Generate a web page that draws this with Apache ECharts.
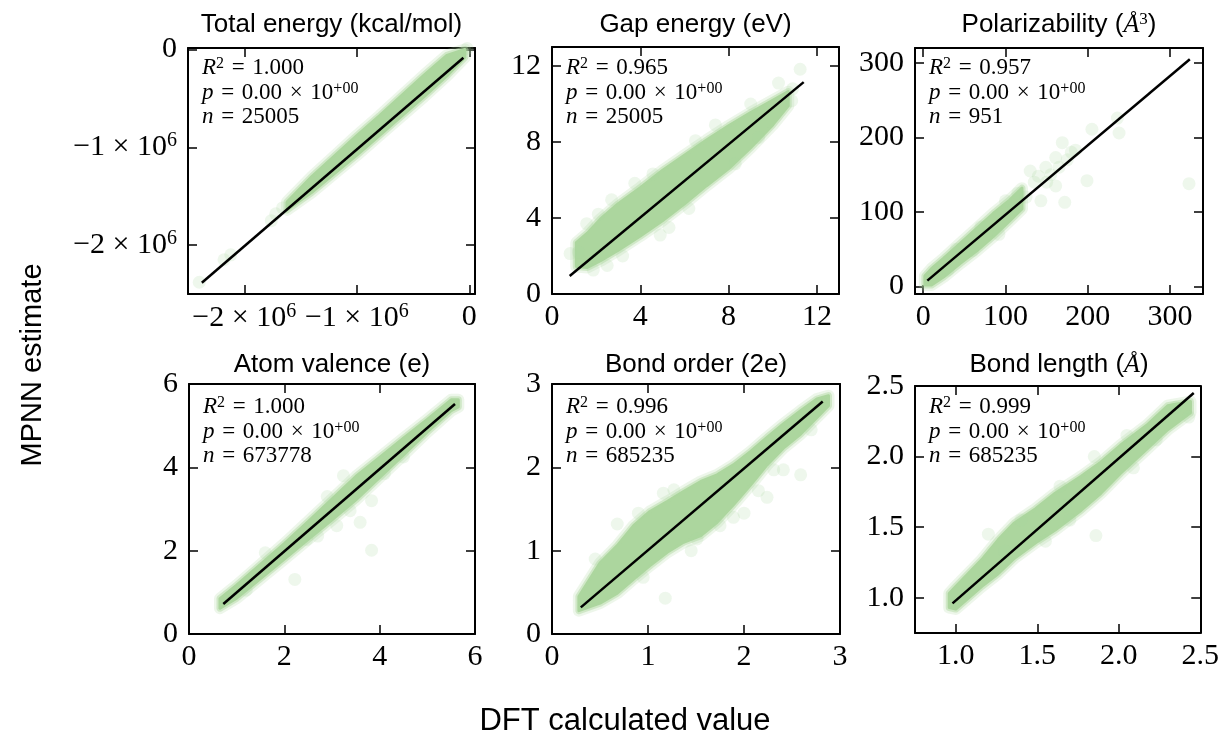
<!DOCTYPE html>
<html>
<head>
<meta charset="utf-8">
<script src="https://cdn.jsdelivr.net/npm/echarts@6/dist/echarts.min.js"></script>
<style>html,body{margin:0;background:#fff}#main{width:1222px;height:740px}</style>
</head>
<body>
<div id="main"></div>
<script>
var dom = document.getElementById('main');
var myChart = echarts.init(dom, null, {renderer: 'canvas'});

// panel titles and stats
var titles = ['Total energy (kcal/mol)', 'Gap energy (eV)', 'Polarizability ({m|Å}{t|3})',
              'Atom valence (e)', 'Bond order (2e)', 'Bond length ({m|Å})'];
var r2Values = ['1.000', '0.965', '0.957', '1.000', '0.996', '0.999'];
var nValues = ['25005', '25005', '951', '673778', '685235', '685235'];

// dense cloud outline per panel: [x, lowest y, highest y]
var totalBand = [[-1.62e6, -1.64e6, -1.56e6], [-1.4e6, -1.46e6, -1.30e6], [-1.2e6, -1.27e6, -1.09e6],
  [-1.0e6, -1.08e6, -0.88e6], [-0.8e6, -0.88e6, -0.68e6], [-0.6e6, -0.68e6, -0.47e6],
  [-0.4e6, -0.48e6, -0.26e6], [-0.2e6, -0.27e6, -0.06e6], [-0.04e6, -0.08e6, 0]];
var gapBand = [[1.1, 1.45, 2.7], [1.6, 1.4, 3.2], [2.2, 1.75, 3.95], [3.0, 2.3, 4.75], [4.0, 3.05, 5.6],
  [5.0, 3.85, 6.5], [6.0, 4.75, 7.3], [7.0, 5.7, 8.1], [8.0, 6.6, 8.85], [9.0, 7.7, 9.55],
  [10.0, 8.9, 10.2], [10.7, 9.9, 10.65]];
var polarBand = [[2, 2, 14], [10, 2, 24], [25, 13, 38], [45, 31, 58], [65, 48, 78], [85, 67, 98],
  [105, 88, 116], [120, 104, 132]];
var valenceBand = [[0.65, 0.62, 0.85], [1.0, 0.86, 1.17], [1.5, 1.33, 1.67], [2.0, 1.80, 2.17],
  [2.5, 2.27, 2.70], [3.0, 2.74, 3.24], [3.5, 3.22, 3.78], [4.0, 3.76, 4.24], [4.5, 4.30, 4.70],
  [5.0, 4.85, 5.15], [5.5, 5.36, 5.62], [5.65, 5.45, 5.62]];
var orderBand = [[0.28, 0.28, 0.45], [0.5, 0.37, 0.85], [0.68, 0.49, 1.06], [0.85, 0.66, 1.30],
  [1.02, 0.82, 1.47], [1.2, 0.98, 1.59], [1.37, 1.10, 1.71], [1.55, 1.18, 1.83], [1.72, 1.34, 1.91],
  [1.89, 1.55, 2.03], [2.07, 1.79, 2.19], [2.24, 2.03, 2.36], [2.41, 2.23, 2.52], [2.59, 2.40, 2.68],
  [2.76, 2.60, 2.82], [2.88, 2.74, 2.86]];
var lengthBand = [[0.96, 0.93, 1.03], [1.0, 0.92, 1.08], [1.16, 1.08, 1.27], [1.26, 1.17, 1.41],
  [1.36, 1.28, 1.53], [1.49, 1.39, 1.63], [1.61, 1.48, 1.74], [1.77, 1.62, 1.86], [1.89, 1.74, 1.96],
  [2.01, 1.88, 2.08], [2.17, 2.05, 2.22], [2.30, 2.19, 2.36], [2.44, 2.31, 2.39]];

// scattered single points outside the dense cloud
var totalPoints = [[-1.72e6, -1.68e6], [-1.66e6, -1.62e6], [-1.76e6, -1.75e6], [-2.12e6, -2.10e6],
  [-2.18e6, -2.15e6], [-2.40e6, -2.38e6], [-0.02e6, 0.01e6]];
var gapPoints = [[0.82, 2.13], [1.57, 3.7], [2.7, 4.96], [3.75, 5.83], [4.57, 6.32], [6.2, 4.5], [5.3, 3.5],
  [6.5, 8.07], [8.3, 6.85], [9.36, 8.24], [10.26, 11.1], [11.24, 11.83], [10.86, 10.17], [1.87, 1.26],
  [2.5, 1.5], [7.4, 8.9], [9.0, 10.0], [3.2, 2.0], [4.9, 3.1], [2.1, 4.2], [10.9, 10.8], [1.2, 2.2]];
var polarPoints = [[205, 211], [236, 226], [238, 206], [199, 142], [172, 113], [143, 115], [323, 138],
  [161, 135], [169, 193], [149, 160], [130, 155], [161, 173], [92, 70], [180, 180], [140, 148],
  [155, 150], [125, 120], [175, 170], [135, 140], [115, 125], [110, 104], [150, 140], [185, 183],
  [165, 160], [100, 115], [70, 80], [40, 50], [30, 22], [60, 48]];
var valencePoints = [[3.83, 2.01], [2.22, 1.31], [3.59, 2.68], [3.38, 2.96], [3.83, 3.2], [2.47, 2.27],
  [4.5, 4.25], [3.24, 3.8], [1.6, 1.95], [2.9, 3.3], [4.1, 3.85], [1.2, 1.05], [3.1, 2.6], [2.7, 2.35]];
var orderPoints = [[0.68, 1.32], [1.18, 0.43], [2.59, 1.91], [2.24, 1.64], [2.41, 1.97], [2.31, 1.97],
  [1.89, 1.40], [1.51, 1.14], [0.95, 0.68], [1.27, 1.73], [1.16, 1.69], [0.45, 0.9], [2.0, 1.45],
  [1.75, 1.3], [2.7, 2.45], [0.9, 1.45], [1.45, 1.0], [2.15, 1.72]];
var lengthPoints = [[1.2, 1.45], [1.86, 1.44], [2.43, 2.28], [1.64, 1.79], [1.85, 2.0], [1.67, 1.65],
  [2.09, 1.92], [2.23, 2.12], [1.55, 1.4], [1.3, 1.33], [2.05, 2.15], [2.35, 2.35], [1.7, 1.55], [1.4, 1.55]];

// fitted lines (start, end)
var totalFit = [[-2.377e6, -2.385e6], [-0.053e6, -0.084e6]];
var gapFit = [[0.8, 0.95], [11.4, 11.15]];
var polarFit = [[5, 8], [324, 305]];
var valenceFit = [[0.72, 0.72], [5.58, 5.52]];
var orderFit = [[0.3, 0.32], [2.82, 2.79]];
var lengthFit = [[0.98, 0.96], [2.46, 2.45]];

// tick positions
var totalTicks = [-2e6, -1e6, 0];
var gapTicks = [0, 4, 8, 12];
var polarTicks = [0, 100, 200, 300];
var valenceTicks = [0, 2, 4, 6];
var orderTicks = [0, 1, 2, 3];
var lengthTicks = [1.0, 1.5, 2.0, 2.5];

var GREEN = '#acd69e';
var SERIF = 'Liberation Serif';
var SANS = 'Liberation Sans';
var SP = '\u2004';

var panels = [
  {band: totalBand, pts: totalPoints, fit: totalFit, ticks: totalTicks, x: [-2.5e6, 0.05e6], y: [-2.5e6, 0.015e6],
   grid: [188, 48, 287, 246], fmt: 'sci'},
  {band: gapBand, pts: gapPoints, fit: gapFit, ticks: gapTicks, x: [0, 13], y: [0, 13],
   grid: [552, 47, 287, 247], fmt: 'int'},
  {band: polarBand, pts: polarPoints, fit: polarFit, ticks: polarTicks, x: [-10, 340], y: [-10, 320],
   grid: [915, 48, 288, 246], fmt: 'int'},
  {band: valenceBand, pts: valencePoints, fit: valenceFit, ticks: valenceTicks, x: [0, 6], y: [0, 6],
   grid: [189, 384, 286, 250], fmt: 'int'},
  {band: orderBand, pts: orderPoints, fit: orderFit, ticks: orderTicks, x: [0, 3], y: [0, 3],
   grid: [552, 384, 288, 250], fmt: 'int'},
  {band: lengthBand, pts: lengthPoints, fit: lengthFit, ticks: lengthTicks, x: [0.75, 2.5], y: [0.75, 2.5],
   grid: [915, 386, 288, 247], fmt: 'dec'}
];

var tickRich = {
  n: {fontFamily: SERIF, fontSize: 30, lineHeight: 33, color: '#000'},
  s: {fontFamily: SERIF, fontSize: 20, lineHeight: 20, verticalAlign: 'top', color: '#000'}
};

function labelFormatter(fmt) {
  return function (v) {
    if (fmt === 'sci') {
      if (v === 0) return '0';
      return '{n|\u2212' + Math.abs(v / 1e6) + ' \u00d7 10}{s|6}';
    }
    if (fmt === 'dec') return v.toFixed(1);
    return String(v);
  };
}

function bandRenderer(band) {
  return function (params, api) {
    if (params.dataIndex !== 0) return null;
    var upper = band.map(function (b) { return api.coord([b[0], b[2]]); });
    var lower = band.map(function (b) { return api.coord([b[0], b[1]]); }).reverse();
    var pts = upper.concat(lower);
    return {
      type: 'group',
      children: [
        {type: 'polygon', shape: {points: pts},
         style: {fill: 'none', stroke: 'rgba(172,214,158,0.22)', lineWidth: 12, lineJoin: 'round'}},
        {type: 'polygon', shape: {points: pts},
         style: {fill: 'none', stroke: 'rgba(172,214,158,0.45)', lineWidth: 7, lineJoin: 'round'}},
        {type: 'polygon', shape: {points: pts},
         style: {fill: GREEN, stroke: GREEN, lineWidth: 3, lineJoin: 'round'}}
      ]
    };
  };
}

function makeAxis(range, ticks, position, showLabel, fmt, gridIndex, isX) {
  return {
    type: 'value', gridIndex: gridIndex, position: position,
    min: range[0], max: range[1],
    axisLine: {show: true, onZero: false, lineStyle: {color: '#000', width: 2}},
    axisTick: {show: true, inside: true, length: 9, customValues: ticks, lineStyle: {color: '#000', width: 1.5}},
    axisLabel: {show: showLabel, customValues: ticks, formatter: labelFormatter(fmt),
      margin: isX ? 8 : 11, fontFamily: SERIF, fontSize: 30, color: '#000', rich: tickRich},
    splitLine: {show: false}
  };
}

var grids = [], xAxes = [], yAxes = [], series = [], graphics = [];
var titleRich = {
  m: {fontFamily: SERIF, fontStyle: 'italic', fontSize: 26, lineHeight: 28, fill: '#000'},
  t: {fontFamily: SERIF, fontSize: 17, lineHeight: 17, verticalAlign: 'top', fill: '#000'}
};
var annRich = {
  i: {fontFamily: SERIF, fontStyle: 'italic', fontSize: 23, lineHeight: 24.5, fill: '#000'},
  n: {fontFamily: SERIF, fontSize: 23, lineHeight: 24.5, fill: '#000'},
  s: {fontFamily: SERIF, fontSize: 16, lineHeight: 16, verticalAlign: 'top', fill: '#000'}
};

panels.forEach(function (p, i) {
  var g = p.grid;
  grids.push({left: g[0], top: g[1], width: g[2], height: g[3], containLabel: false});
  xAxes.push(makeAxis(p.x, p.ticks, 'bottom', true, p.fmt, i, true));
  xAxes.push(makeAxis(p.x, p.ticks, 'top', false, p.fmt, i, true));
  yAxes.push(makeAxis(p.y, p.ticks, 'left', true, p.fmt, i, false));
  yAxes.push(makeAxis(p.y, p.ticks, 'right', false, p.fmt, i, false));

  series.push({
    type: 'custom', xAxisIndex: 2 * i, yAxisIndex: 2 * i,
    data: p.band, encode: {x: 0, y: [1, 2]},
    renderItem: bandRenderer(p.band), silent: true, z: 1
  });
  series.push({
    type: 'scatter', xAxisIndex: 2 * i, yAxisIndex: 2 * i,
    data: p.pts, symbolSize: 13, silent: true, z: 2,
    itemStyle: {color: GREEN, opacity: 0.2}
  });
  series.push({
    type: 'line', xAxisIndex: 2 * i, yAxisIndex: 2 * i,
    data: p.fit, symbol: 'none', silent: true, z: 3,
    lineStyle: {color: '#000', width: 2.5}
  });

  var top = i < 3 ? 25 : 365;
  graphics.push({
    type: 'text', x: g[0] + g[2] / 2, y: top,
    style: {text: titles[i], rich: titleRich, fontFamily: SANS, fontSize: 26, fill: '#000',
            align: 'center', verticalAlign: 'middle', textAlign: 'center', textVerticalAlign: 'middle'}
  });
  graphics.push({
    type: 'text', x: g[0] + 14, y: (i < 3 ? 56 : 395),
    style: {
      text: '{i|R}{s|2}{n|' + SP + '=' + SP + r2Values[i] + '}\n' +
            '{i|p}{n|' + SP + '=' + SP + '0.00' + SP + '\u00d7' + SP + '10}{s|+00}\n' +
            '{i|n}{n|' + SP + '=' + SP + nValues[i] + '}',
      rich: annRich, fill: '#000'
    },
    z: 10
  });
});

graphics.push({
  type: 'text', x: 33, y: 365, rotation: Math.PI / 2,
  style: {text: 'MPNN estimate', fontFamily: SANS, fontSize: 29, fill: '#000',
          align: 'center', verticalAlign: 'middle', textAlign: 'center', textVerticalAlign: 'middle'}
});
graphics.push({
  type: 'text', x: 625, y: 721,
  style: {text: 'DFT calculated value', fontFamily: SANS, fontSize: 31, fill: '#000',
          align: 'center', verticalAlign: 'middle', textAlign: 'center', textVerticalAlign: 'middle'}
});

var option = {
  animation: false,
  backgroundColor: '#fff',
  grid: grids,
  xAxis: xAxes,
  yAxis: yAxes,
  series: series,
  graphic: graphics
};
myChart.setOption(option, true);
</script>
</body>
</html>
